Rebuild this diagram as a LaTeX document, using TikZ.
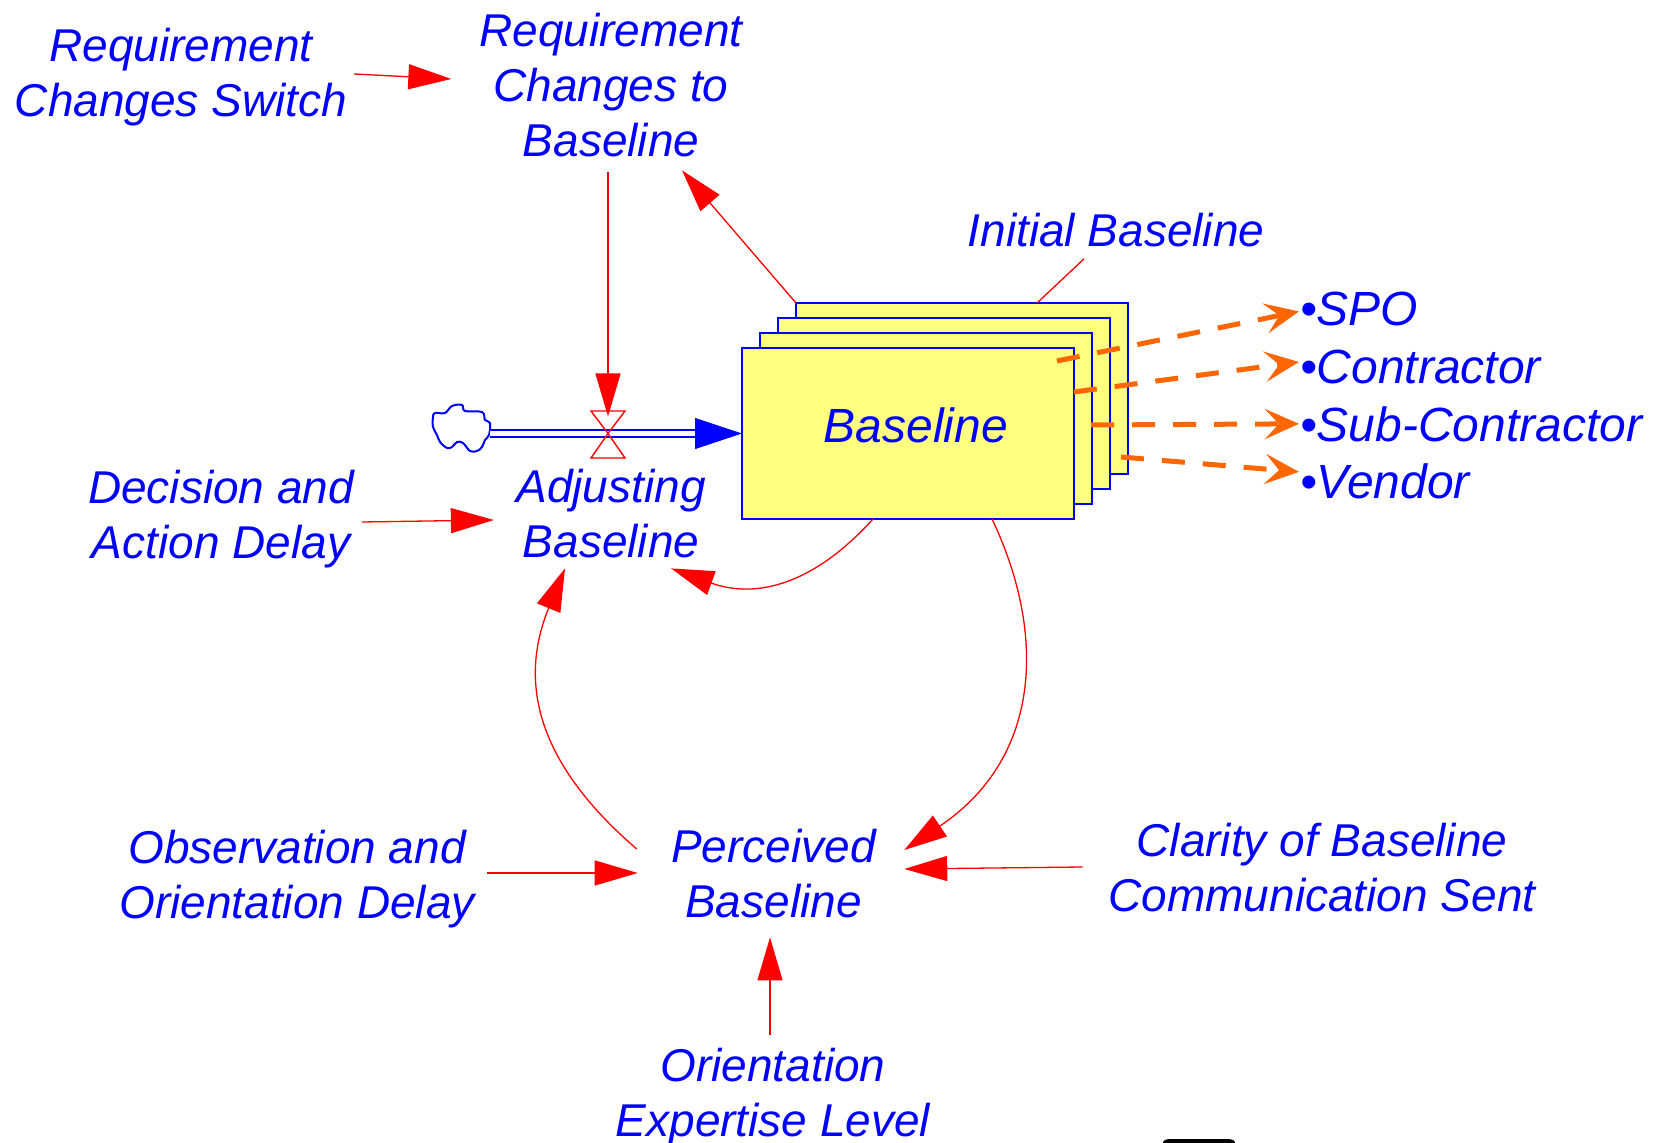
\documentclass[tikz,border=0pt]{standalone}
\usepackage{fontspec}
\setmainfont{Liberation Sans}
\usetikzlibrary{arrows.meta,calc}
\definecolor{sdblue}{RGB}{0,0,255}
\definecolor{sdred}{RGB}{255,0,0}
\definecolor{sdorange}{RGB}{255,102,0}
\definecolor{stockfill}{RGB}{255,255,128}
\tikzset{
  lbl/.style={text=sdblue, font=\fontsize{23pt}{27.5pt}\selectfont\itshape, align=center, inner sep=0pt, outer sep=0pt},
  biglbl/.style={lbl, font=\fontsize{24pt}{28pt}\selectfont\itshape},
  role/.style={biglbl, anchor=base west},
  sheet/.style={draw=sdblue, fill=stockfill, line width=1pt, minimum width=166pt, minimum height=85.5pt, inner sep=0pt, outer sep=0pt},
  link/.style={draw=sdred, line width=0.65pt, -{Triangle[length=21.5pt,width=12.5pt]}},
  plainlink/.style={draw=sdred, line width=0.65pt},
  dist/.style={draw=sdorange, line width=2.5pt, dash pattern=on 11.5pt off 9pt, -{Stealth[length=17pt,width=15pt,inset=7pt]}},
  pipe/.style={draw=sdblue, line width=0.9pt, double=white, double distance=2.6pt},
  valvepart/.style={draw=sdred, line width=0.7pt},
}
\begin{document}
\begin{tikzpicture}[x=0.5pt,y=-0.5pt]
\fill[white] (0,0) rectangle (1666,1143);
\useasboundingbox (0,0) rectangle (1666,1143);

% stacked stock sheets, back to front
\node[sheet] (bk4) at (962,388.5) {};
\node[sheet] (bk3) at (944,403.5) {};
\node[sheet] (bk2) at (926,418.5) {};
\node[sheet] (stock) at (908,433.5) {};
\node[biglbl] (stocklbl) at (916,425) {Baseline};

% variables
\node[lbl] (sw) at (181,77) {Requirement\\Changes Switch};
\node[lbl] (rc) at (611,85) {Requirement\\Changes to\\Baseline};
\node[lbl] (ib) at (1116,230) {Initial Baseline};
\node[lbl] (adj) at (611,514) {Adjusting\\Baseline};
\node[lbl] (dec) at (221,519) {Decision and\\Action Delay};
\node[lbl] (od) at (297,879) {Observation and\\Orientation Delay};
\node[lbl] (pb) at (773.5,874) {Perceived\\Baseline};
\node[lbl] (cl) at (1322,868) {Clarity of Baseline\\Communication Sent};
\node[lbl] (oe) at (773,1097) {Orientation\\Expertise Level};
\node[role] (spo) at (1300,326) {•SPO};
\node[role] (con) at (1300,384) {•Contractor};
\node[role] (sub) at (1300,442) {•Sub-Contractor};
\node[role] (ven) at (1300,499) {•Vendor};

% source cloud
\draw[sdblue, line width=1pt] plot[smooth cycle, tension=0.6] coordinates {(435,413) (445,413) (452,406) (462,405) (465,411) (482,412) (485,420) (490,423) (489,435) (485,440) (482,447) (477,451) (470,451) (463,443) (457,442) (452,447) (447,448) (440,442) (437,435) (433,427) (433,417)};
\coordinate (src) at (490,433.5);
\coordinate (valve) at (608,433.5);

% inflow pipe
\draw[pipe] (src) -- ($(stock.west)+(-44,0)$);
\draw[sdblue, line width=0.5pt, -{Triangle[length=23.5pt,width=15.5pt]}] ($(stock.west)+(-46,0)$) -- (stock.west);

% valve
\draw[valvepart] ($(valve)+(-17,-22.5)$) -- ($(valve)+(17,-22.5)$) -- (valve) -- cycle;
\draw[valvepart] ($(valve)+(-17,24.5)$) -- ($(valve)+(17,24.5)$) -- (valve) -- cycle;

% causal links
\draw[link] ($(sw.east)+(7,-3)$) -- ($(rc.west)+(-28,-6)$);
\draw[link] ($(rc.south -| valve)+(0,15.5)$) -- ($(valve)+(0,-17)$);
\draw[link] (bk4.north west) -- ($(rc.south)+(71,13.5)$);
\draw[plainlink] ($(ib.south)+(-32,12)$) -- ($(bk4.north)+(75,0)$);
\draw[link] ($(dec.east)+(8,3)$) -- ($(adj.west)+(-22.5,6)$);
\draw[link] ($(stock.south)+(-35,0)$) .. controls (813,585.5) and (755,599) .. ($(adj.south)+(60,10)$);
\draw[link] ($(stock.south)+(84,0)$) .. controls (1045,630) and (1044,756) .. ($(pb.east)+(28.5,-24)$);
\draw[link] ($(pb.west)+(-34.5,-25)$) .. controls (545,770) and (515,690) .. ($(adj.south)+(-46,10)$);
\draw[link] ($(od.east)+(12,-6)$) -- ($(pb.west)+(-33.5,-1)$);
\draw[link] ($(cl.west)+(-26,-1)$) -- ($(pb.east)+(28.5,-5)$);
\draw[link] ($(oe.north)+(-3,-12.6)$) -- ($(pb.south)+(-3.5,19)$);

% distribution of the baseline
\draw[dist] ($(stock.north east)+(-17,13)$) -- ($(spo.west)+(-1,2)$);
\draw[dist] ($(stock.east)+(0,-41.5)$) -- ($(con.west)+(-1,-5.5)$);
\draw[dist] ($(bk2.east)+(-1,6.5)$) -- ($(sub.west)+(-1,-1)$);
\draw[dist] ($(bk4.east)+(-7,68.5)$) -- ($(ven.west)+(-1,-10)$);

% dark mark on the lower edge
\fill[black] (1163,1143) .. controls (1163,1140) and (1166,1139) .. (1172,1139) -- (1226,1139) .. controls (1232,1139) and (1235,1140) .. (1235,1143) -- cycle;
\end{tikzpicture}
\end{document}
